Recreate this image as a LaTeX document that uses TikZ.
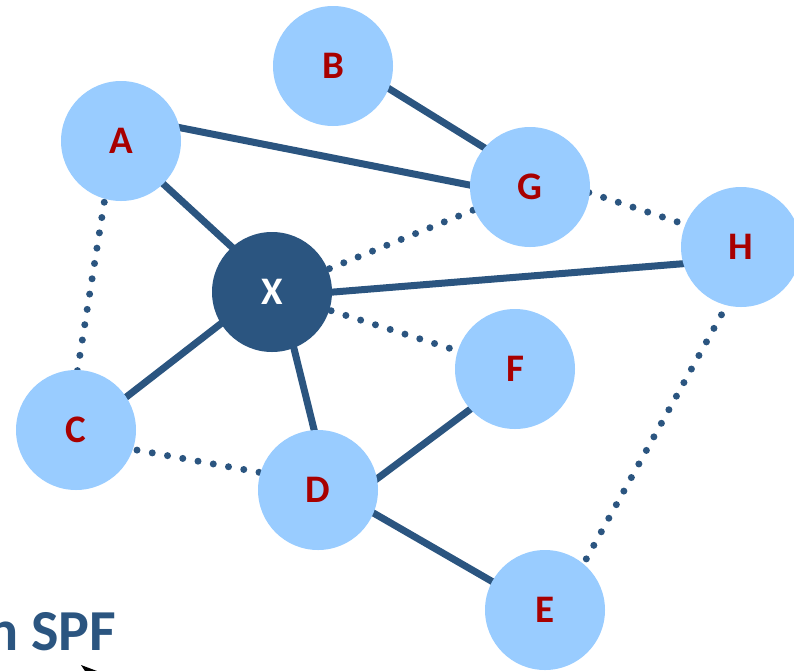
\documentclass[tikz,border=0pt]{standalone}
\usepackage{fontspec}
\setmainfont{Carlito}
\begin{document}
\begin{tikzpicture}[x=1pt,y=-1pt,
  link/.style={draw=edgeblue,line width=7pt},
  dotlink/.style={draw=edgeblue,line width=7pt,line cap=round,dash pattern=on 0pt off 15.5pt},
  router/.style={circle,fill=nodeblue,minimum size=120pt,inner sep=0pt,
    text=labelred,font=\fontsize{39}{42}\selectfont\bfseries},
  hub/.style={router,fill=edgeblue,text=white}]
\definecolor{edgeblue}{HTML}{2B5580}
\definecolor{nodeblue}{HTML}{99CCFF}
\definecolor{labelred}{HTML}{A80000}
\path[use as bounding box] (0,0) rectangle (794,670);
\begin{scope}
\clip (0,0) rectangle (794,670);
% router positions
\coordinate (pA) at (121,141);
\coordinate (pB) at (333,66);
\coordinate (pG) at (530,187);
\coordinate (pH) at (741,247);
\coordinate (pX) at (272,292);
\coordinate (pF) at (515,369);
\coordinate (pC) at (76,430);
\coordinate (pD) at (318,490);
\coordinate (pE) at (545,610);
% solid links (ends offset inside the circles)
\draw[link] ([shift={(0,-12)}]pB) -- ([shift={(0,-11)}]pG);
\draw[link] ([shift={(0,-25)}]pA) -- ([shift={(0,10)}]pG);
\draw[link] ([shift={(0,4)}]pA) -- ([shift={(0,-8)}]pX);
\draw[link] ([shift={(0,5)}]pX) -- ([shift={(0,12)}]pH);
\draw[link] ([shift={(0,-8)}]pX) -- ([shift={(0,6)}]pC);
\draw[link] ([shift={(8,0)}]pX) -- ([shift={(11,0)}]pD);
\draw[link] ([shift={(52,-6)}]pD) -- ([shift={(-35,33)}]pF);
\draw[link] ([shift={(0,-9)}]pD) -- ([shift={(0,2)}]pE);
% dotted links
\draw[dotlink] ([shift={(-7,0)}]pA) -- ([shift={(-8,0)}]pC);
\draw[dotlink] (pX) -- (pG);
\draw[dotlink] (pX) -- (pF);
\draw[dotlink] ([shift={(0,-14)}]pG) -- ([shift={(0,-4)}]pH);
\draw[dotlink] ([shift={(0,9)}]pC) -- ([shift={(0,-7)}]pD);
\draw[dotlink] ([shift={(18,0)}]pH) -- ([shift={(13,0)}]pE);
% routers
\node[router] (A) at (pA) {A};
\node[router] (B) at (pB) {B};
\node[router] (G) at (pG) {G};
\node[router] (H) at (pH) {H};
\node[router] (F) at (pF) {F};
\node[router] (C) at (pC) {C};
\node[router] (D) at (pD) {D};
\node[router] (E) at (pE) {E};
\node[hub] (X) at (pX) {X};
% caption fragment and arrow tip
\node[anchor=base west,inner sep=0pt,text=edgeblue,font=\fontsize{58}{60}\selectfont\bfseries] (cap) at (-13,650) {n SPF};
\fill[black] (81,665) -- (97,671) -- (81,677) -- (85,671) -- cycle;
\end{scope}
\end{tikzpicture}
\end{document}
